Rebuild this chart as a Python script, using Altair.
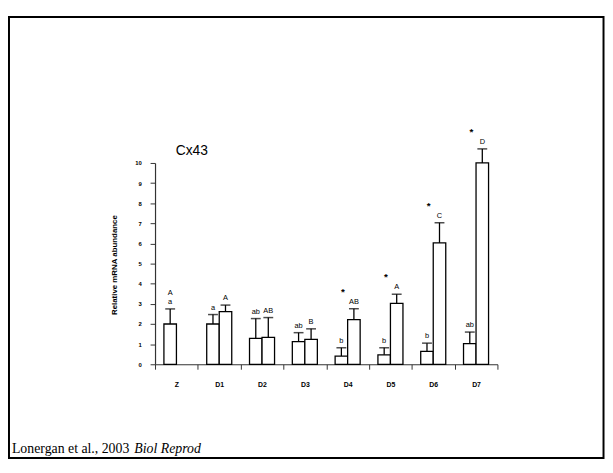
import altair as alt
import pandas as pd

groups = ["Z", "D1", "D2", "D3", "D4", "D5", "D6", "D7"]
first_vals = [2.0, 2.0, 1.29, 1.13, 0.41, 0.47, 0.64, 1.03]
first_err = [0.75, 0.47, 0.98, 0.44, 0.41, 0.35, 0.41, 0.57]
first_lab = ["a", "a", "ab", "ab", "b", "b", "b", "ab"]
second_vals = [None, 2.62, 1.34, 1.24, 2.22, 3.02, 6.03, 10.0]
second_err = [None, 0.32, 0.98, 0.52, 0.54, 0.46, 1.0, 0.7]
second_lab = ["A", "A", "AB", "B", "AB", "A", "C", "D"]
stars = ["", "", "", "", "*", "*", "*", "*"]
y_ticks = [0, 1, 2, 3, 4, 5, 6, 7, 8, 9, 10]

rows = []
extra = []
for i, g in enumerate(groups):
    rows.append({"group": g, "series": "s1", "value": first_vals[i],
                 "top": first_vals[i] + first_err[i], "label": first_lab[i], "star": ""})
    if second_vals[i] is not None:
        rows.append({"group": g, "series": "s2", "value": second_vals[i],
                     "top": second_vals[i] + second_err[i], "label": second_lab[i],
                     "star": stars[i]})
    else:
        extra.append({"group": g, "series": "s1", "top": first_vals[i] + first_err[i],
                      "label": second_lab[i]})
df = pd.DataFrame(rows)
extra_df = pd.DataFrame(extra)
star_df = df[df["star"] != ""]

FONT = "Liberation Sans"

x_enc = alt.X("group:N", sort=groups,
              scale=alt.Scale(paddingInner=0, paddingOuter=0),
              axis=alt.Axis(title="", tickBand="extent", tickSize=5, labelAngle=0,
                            labelFontSize=7, labelFontWeight="bold", labelPadding=12,
                            labelColor="black", domainColor="#333", tickColor="#333",
                            domainWidth=1.2, tickWidth=1))
xo_enc = alt.XOffset("series:N", sort=["s1", "s2"],
                     scale=alt.Scale(paddingOuter=0.71, paddingInner=0))
y_scale = alt.Scale(domain=[0, 10], nice=False)
y_axis = alt.Axis(values=y_ticks, title="Relative mRNA abundance",
                  titleFontSize=8, titleFontWeight="bold", titleX=-41, titleY=103,
                  titleBaseline="middle", labelOverlap=False,
                  labelFontSize=6, labelFontWeight="bold", labelPadding=9,
                  labelColor="black", tickSize=5, grid=False,
                  domainColor="#333", tickColor="#333", domainWidth=1.2)


def yq(field):
    return alt.Y(field, type="quantitative", scale=y_scale, axis=y_axis, title="Relative mRNA abundance")


base = alt.Chart(df)

bars = base.mark_bar(fill="white", stroke="black", strokeWidth=1.3).encode(
    x=x_enc, xOffset=xo_enc, y=yq("value"))

err = base.mark_rule(color="black", strokeWidth=1.3).encode(
    x=x_enc, xOffset=xo_enc, y=yq("value"), y2="top:Q")

caps = base.mark_tick(orient="horizontal", size=10, thickness=1.5, color="black").encode(
    x=x_enc, xOffset=xo_enc, y=yq("top"))

labels = base.mark_text(fontSize=7.5, baseline="alphabetic", dy=-5, color="black").encode(
    x=x_enc, xOffset=xo_enc, y=yq("top"), text="label:N")

extra_labels = alt.Chart(extra_df).mark_text(fontSize=7.5, baseline="alphabetic", dy=-14,
                                             color="black").encode(
    x=x_enc, xOffset=xo_enc, y=yq("top"), text="label:N")

star_marks = alt.Chart(star_df).mark_text(fontSize=10, fontWeight="bold", baseline="alphabetic",
                                          dy=-14, dx=-11, color="black").encode(
    x=x_enc, xOffset=xo_enc, y=yq("top"), text="star:N")

title_df = pd.DataFrame({"t": ["Cx43"]})
title = alt.Chart(title_df).mark_text(fontSize=14, align="left", baseline="alphabetic",
                                      color="black").encode(
    x=alt.value(21), y=alt.value(-8), text="t:N")

cite_df = pd.DataFrame({"a": ["Lonergan et al., 2003"], "b": ["Biol Reprod"]})
cite1 = alt.Chart(cite_df).mark_text(font="Liberation Serif", fontSize=14, align="left",
                                     baseline="alphabetic", color="black").encode(
    x=alt.value(-145), y=alt.value(294), text="a:N")
cite2 = alt.Chart(cite_df).mark_text(font="Liberation Serif", fontSize=14, fontStyle="italic",
                                     align="left", baseline="alphabetic", color="black").encode(
    x=alt.value(-21), y=alt.value(294), text="b:N")

frame_df = pd.DataFrame({"k": [1]})
frame = alt.Chart(frame_df).mark_rect(fill="transparent", stroke="black", strokeWidth=2).encode(
    x=alt.value(-148), x2=alt.value(454.5), y=alt.value(-148), y2=alt.value(299))

chart = alt.layer(frame, bars, err, caps, labels, extra_labels, star_marks, title,
                  cite1, cite2).properties(
    width=347, height=204,
    autosize=alt.AutoSizeParams(type="none"),
    padding={"left": 149, "top": 154, "right": 109, "bottom": 97},
    background="white",
).configure(font=FONT).configure_view(stroke="transparent")

chart.save("out.html", embed_options={"renderer": "svg", "actions": False})
